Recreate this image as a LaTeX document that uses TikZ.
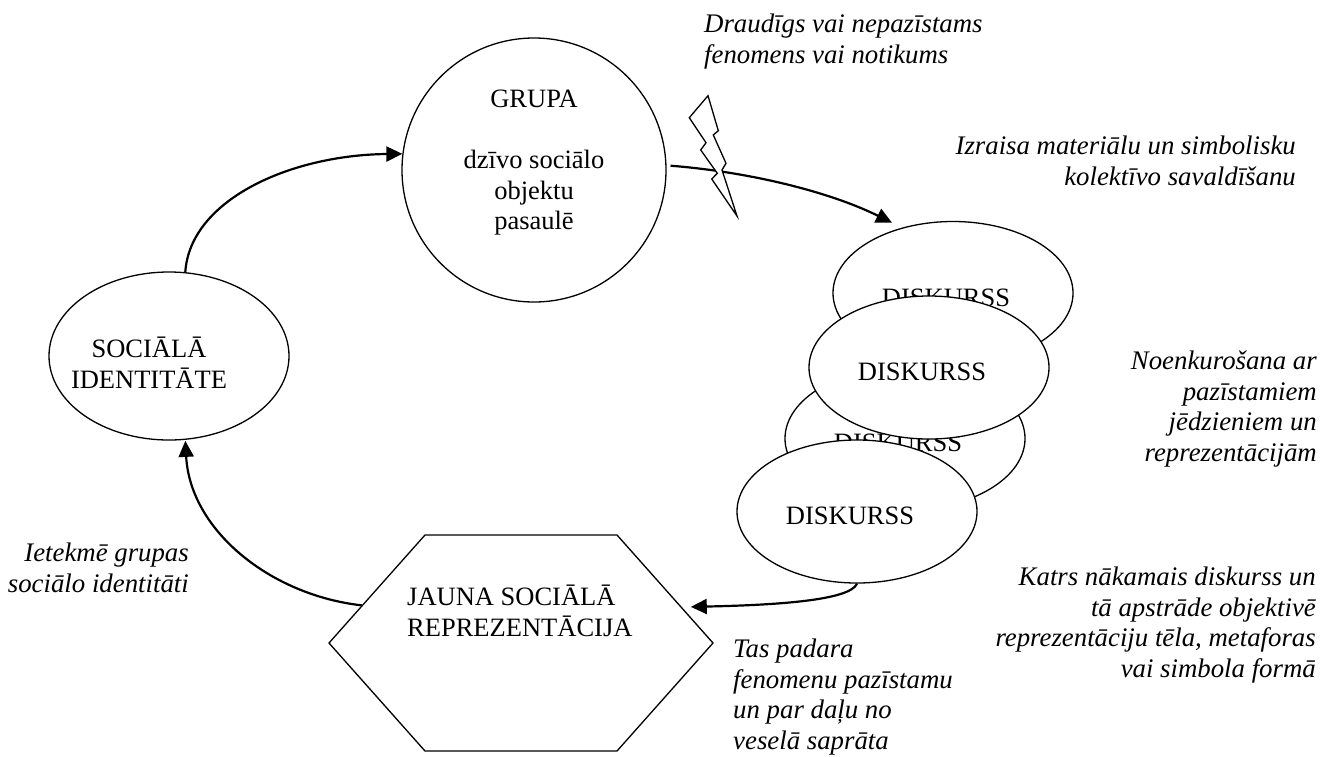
\documentclass[tikz,border=0pt]{standalone}
\usepackage{fontspec}
\setmainfont{Liberation Serif}
\usetikzlibrary{shapes.geometric, arrows.meta, positioning, calc}

\tikzset{
    bodytext/.style={font=\fontsize{26.5}{30.5}\selectfont, align=center, inner sep=0pt},
    notetext/.style={font=\fontsize{26.8}{30.5}\selectfont\itshape, inner sep=0pt},
    outline/.style={draw=black, fill=white, line width=1.3pt, inner sep=0pt},
    flow/.style={line width=2.2pt, -{Triangle[length=16pt,width=15pt]}}
}

\begin{document}
\begin{tikzpicture}[x=1pt, y=-1pt]
\useasboundingbox (0,0) rectangle (1322,756);

% Group circle
\node[outline, circle, minimum size=264pt] (grupa) at (534,170) {};
\node[bodytext, anchor=north] (grupatext) at (534,90) {GRUPA\\[30.5pt]dzīvo sociālo\\objektu\\pasaulē};

% Social identity ellipse
\node[outline, ellipse, minimum width=240pt, minimum height=168pt] (identitate) at (169,356) {};
\node[bodytext, anchor=north] (identitatetext) at (149,337) {SOCIĀLĀ\\IDENTITĀTE};

% Stack of discourse ellipses
\foreach \name/\x/\y in {disk1/953/293, disk3/905/438.5, disk2/929/367.5, disk4/857/511.5} {
    \node[outline, ellipse, minimum width=240pt, minimum height=143pt] (\name) at (\x,\y) {};
    \node[bodytext, anchor=base] (\name text) at (\x-7,\y+13) {DISKURSS};
}

% New representation hexagon
\node[outline, regular polygon, regular polygon sides=6,
    minimum size=384pt, transform shape, yscale=0.6495] (hexa) at (521,643) {};
\node[bodytext, align=left, anchor=north west] (hexatext) at (407,585) {JAUNA SOCIĀLĀ\\REPREZENTĀCIJA};

% Cycle arrows
\draw[flow, shorten <=4pt, shorten >=11pt] (grupa.2) .. controls (750,172) and (830,192) .. (disk1.128);
\draw[flow, shorten >=9pt] (disk4.south) .. controls (850,600) and (780,605) .. (hexa.19.1);
\draw[flow, shorten >=1pt] (hexa.160.9) .. controls (270,595) and (190,530) .. (identitate.-79);
\draw[flow] (identitate.79) .. controls (190,200) and (290,155) .. (grupa.173);

% Lightning on top of the first arrow
\draw[fill=white, line width=1.3pt] (708,95.7) -- (689.3,117.7) -- (706,142.7) -- (700.7,150)
    -- (717.3,173.3) -- (711.7,179) -- (737,216) -- (722,170) -- (726,163.3)
    -- (713.3,135) -- (718.3,130.7) -- cycle;

% Notes
\node[notetext, align=left, anchor=north west] (note1) at (704,14) {Draudīgs vai nepazīstams\\fenomens vai notikums};
\node[notetext, align=right, anchor=north east] (note2) at (1296,136) {Izraisa materiālu un simbolisku\\kolektīvo savaldīšanu};
\node[notetext, align=right, anchor=north east] (note3) at (1317,351) {Noenkurošana ar\\pazīstamiem\\jēdzieniem un\\reprezentācijām};
\node[notetext, align=right, anchor=north east] (note4) at (1316,567) {Katrs nākamais diskurss un\\tā apstrāde objektivē\\reprezentāciju tēla, metaforas\\vai simbola formā};
\node[notetext, align=left, anchor=north west] (note5) at (733,639) {Tas padara\\fenomenu pazīstamu\\un par daļu no\\veselā saprāta};
\node[notetext, align=right, anchor=north east] (note6) at (189,543) {Ietekmē grupas\\sociālo identitāti};
\end{tikzpicture}
\end{document}
